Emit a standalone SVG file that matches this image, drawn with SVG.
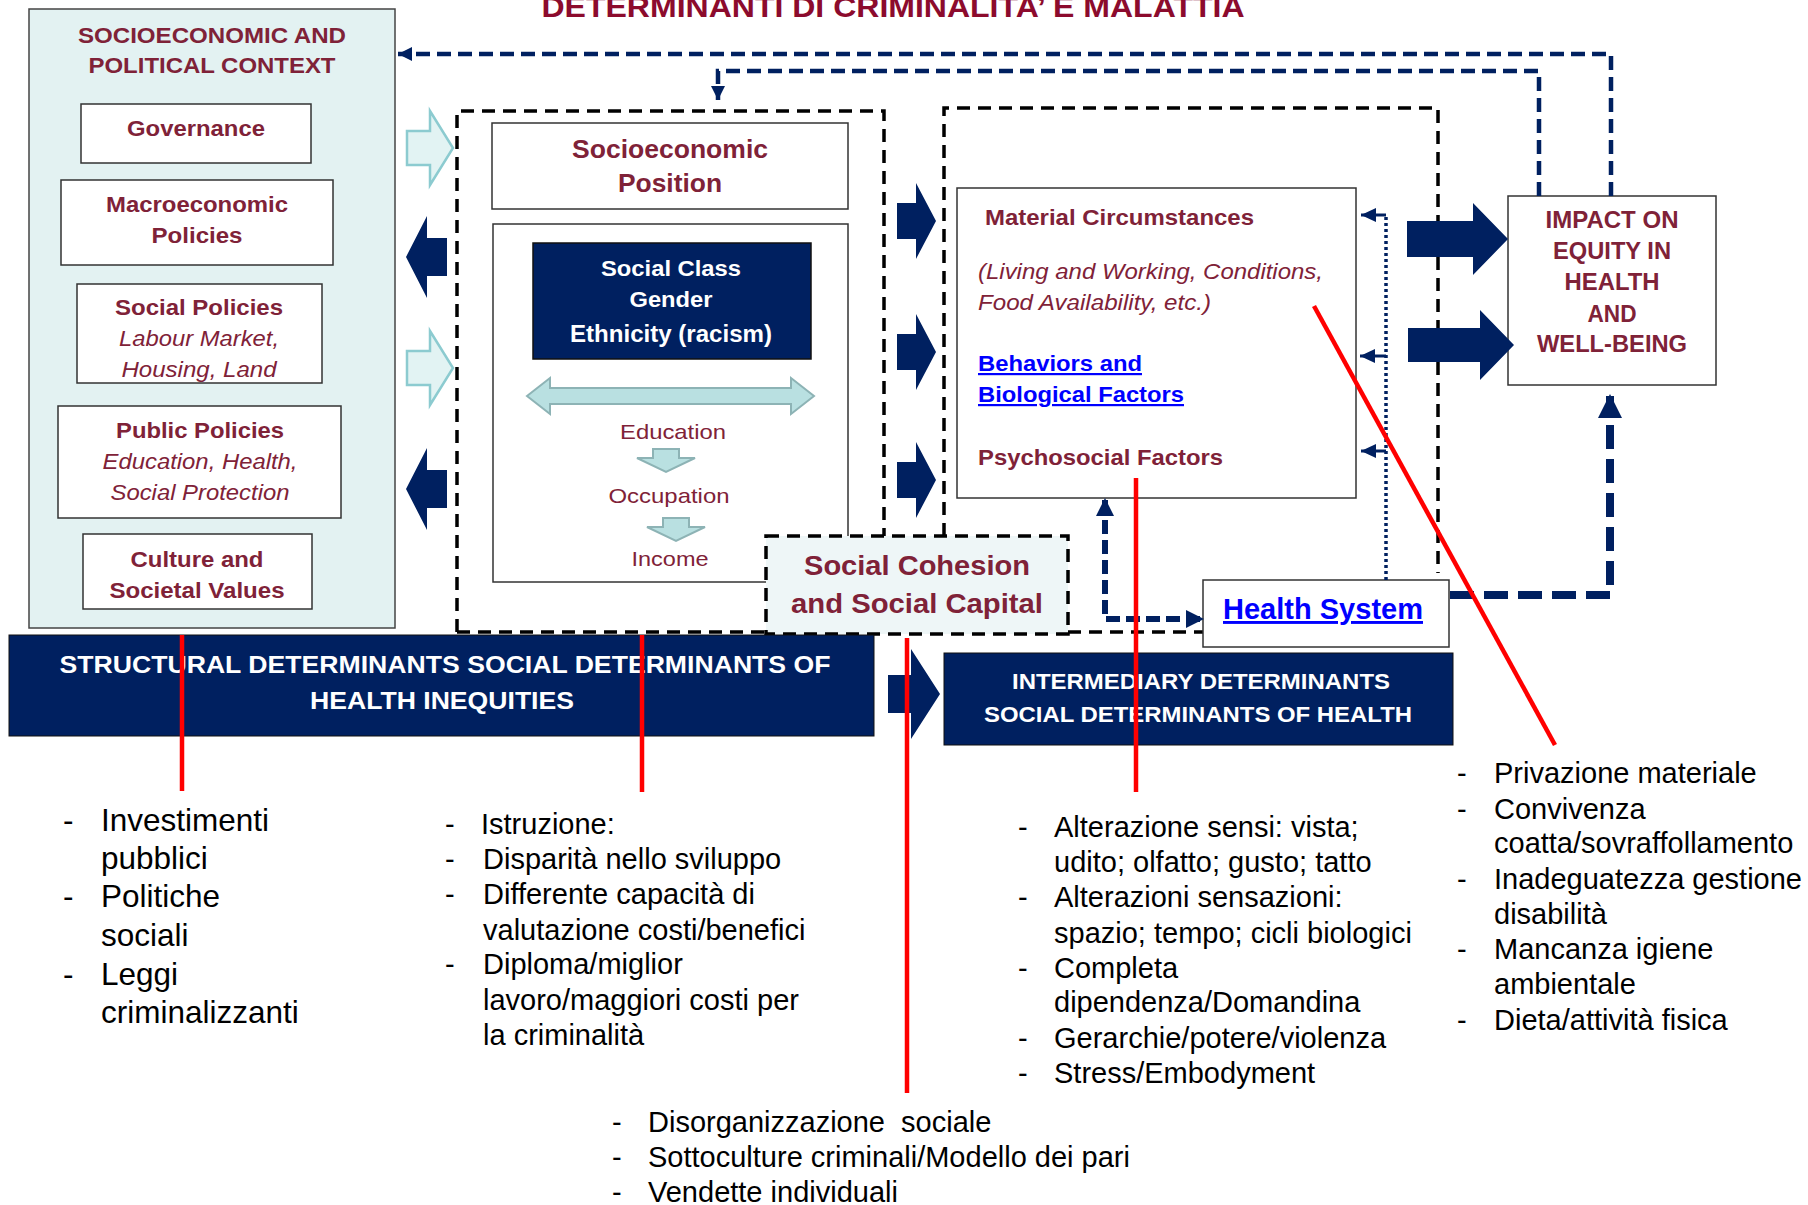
<svg xmlns="http://www.w3.org/2000/svg" width="1808" height="1205" viewBox="0 0 1808 1205">
<defs>
<style>
text{font-family:"Liberation Sans",Arial,sans-serif}
.b{font-weight:bold}
.i{font-style:italic}
.mr{fill:#7F2238}
.w{fill:#ffffff}
.bl{fill:#0000FF;text-decoration:underline}
.k{fill:#000000}
.box{fill:#ffffff;stroke:#333333;stroke-width:1.5}
.ctx{fill:#E3F2F2;stroke:#444444;stroke-width:1.5}
.navy{fill:#002060}
.dash{fill:none;stroke:#000000;stroke-width:3.5;stroke-dasharray:13 8}
.lt{fill:#E2F3F3;stroke:#8CCBD0;stroke-width:2.5}
.lt2{fill:#B9E0E1;stroke:#8DB3B5;stroke-width:2}
.fb{fill:none;stroke:#002060;stroke-width:4.5;stroke-dasharray:14 7}
.dot{fill:none;stroke:#002060;stroke-width:3.5;stroke-dasharray:3 3}
.sl{fill:none;stroke:#002060;stroke-width:3}
.red{stroke:#FF0000;stroke-width:4.5;fill:none}
.ls{font-size:29px}
</style>
<marker id="ah" markerUnits="userSpaceOnUse" markerWidth="14" markerHeight="14" refX="14" refY="7" orient="auto"><path d="M0,0 L14,7 L0,14 Z" fill="#002060"/></marker>
<marker id="ahs" markerUnits="userSpaceOnUse" markerWidth="15" markerHeight="14" refX="15" refY="7" orient="auto"><path d="M0,0 L15,7 L0,14 Z" fill="#002060"/></marker>
<marker id="ahm" markerUnits="userSpaceOnUse" markerWidth="18" markerHeight="18" refX="16" refY="9" orient="auto-start-reverse"><path d="M0,0 L18,9 L0,18 Z" fill="#002060"/></marker>
<marker id="ahl" markerUnits="userSpaceOnUse" markerWidth="24" markerHeight="24" refX="22" refY="12" orient="auto"><path d="M0,0 L24,12 L0,24 Z" fill="#002060"/></marker>
</defs>
<rect width="1808" height="1205" fill="#ffffff"/>

<g id="title">
<text x="893" y="17" class="b" font-size="30" fill="#8C0B2D" text-anchor="middle" textLength="703" lengthAdjust="spacingAndGlyphs">DETERMINANTI DI CRIMINALITA’ E MALATTIA</text>
</g>

<g id="context">
<rect x="29" y="9" width="366" height="619" class="ctx"/>
<text x="212" y="43" class="b mr" font-size="22" text-anchor="middle" textLength="268" lengthAdjust="spacingAndGlyphs">SOCIOECONOMIC AND</text>
<text x="212" y="73" class="b mr" font-size="22" text-anchor="middle" textLength="247" lengthAdjust="spacingAndGlyphs">POLITICAL CONTEXT</text>
</g>
<g id="governance">
<rect x="81" y="104" width="230" height="59" class="box"/>
<text x="196" y="136" class="b mr" font-size="22" text-anchor="middle" textLength="138" lengthAdjust="spacingAndGlyphs">Governance</text>
</g>
<g id="macro">
<rect x="61" y="180" width="272" height="85" class="box"/>
<text x="197" y="212" class="b mr" font-size="22" text-anchor="middle" textLength="182" lengthAdjust="spacingAndGlyphs">Macroeconomic</text>
<text x="197" y="243" class="b mr" font-size="22" text-anchor="middle" textLength="91" lengthAdjust="spacingAndGlyphs">Policies</text>
</g>
<g id="socialpol">
<rect x="77" y="284" width="245" height="99" class="box"/>
<text x="199" y="315" class="b mr" font-size="22" text-anchor="middle" textLength="168" lengthAdjust="spacingAndGlyphs">Social Policies</text>
<text x="199" y="346" class="i mr" font-size="22" text-anchor="middle" textLength="160" lengthAdjust="spacingAndGlyphs">Labour Market,</text>
<text x="199" y="377" class="i mr" font-size="22" text-anchor="middle" textLength="155" lengthAdjust="spacingAndGlyphs">Housing, Land</text>
</g>
<g id="publicpol">
<rect x="58" y="406" width="283" height="112" class="box"/>
<text x="200" y="438" class="b mr" font-size="22" text-anchor="middle" textLength="168" lengthAdjust="spacingAndGlyphs">Public Policies</text>
<text x="200" y="469" class="i mr" font-size="22" text-anchor="middle" textLength="195" lengthAdjust="spacingAndGlyphs">Education, Health,</text>
<text x="200" y="500" class="i mr" font-size="22" text-anchor="middle" textLength="179" lengthAdjust="spacingAndGlyphs">Social Protection</text>
</g>
<g id="culture">
<rect x="83" y="534" width="229" height="75" class="box"/>
<text x="197" y="567" class="b mr" font-size="22" text-anchor="middle" textLength="133" lengthAdjust="spacingAndGlyphs">Culture and</text>
<text x="197" y="598" class="b mr" font-size="22" text-anchor="middle" textLength="175" lengthAdjust="spacingAndGlyphs">Societal Values</text>
</g>

<g id="structural-frame">
<path class="dash" d="M457,632 V111 H884 V536"/>
<path class="dash" d="M457,632 H766"/>
<path class="dash" d="M1068,632 H1203"/>
</g>
<g id="sep">
<rect x="492" y="123" width="356" height="86" class="box"/>
<text x="670" y="158" class="b mr" font-size="25" text-anchor="middle" textLength="196" lengthAdjust="spacingAndGlyphs">Socioeconomic</text>
<text x="670" y="192" class="b mr" font-size="25" text-anchor="middle" textLength="104" lengthAdjust="spacingAndGlyphs">Position</text>
</g>
<g id="sep-inner">
<rect x="493" y="224" width="355" height="358" class="box"/>
</g>
<g id="socialclass">
<rect x="533" y="243" width="278" height="116" fill="#002060" stroke="#111111" stroke-width="1.5"/>
<text x="671" y="276" class="b w" font-size="22" text-anchor="middle" textLength="140" lengthAdjust="spacingAndGlyphs">Social Class</text>
<text x="671" y="307" class="b w" font-size="22" text-anchor="middle" textLength="83" lengthAdjust="spacingAndGlyphs">Gender</text>
<text x="671" y="342" class="b w" font-size="23" text-anchor="middle" textLength="202" lengthAdjust="spacingAndGlyphs">Ethnicity (racism)</text>
</g>
<g id="education">
<text x="673" y="439" class="mr" font-size="21" text-anchor="middle" textLength="106" lengthAdjust="spacingAndGlyphs">Education</text>
</g>
<g id="occupation">
<text x="669" y="503" class="mr" font-size="21" text-anchor="middle" textLength="121" lengthAdjust="spacingAndGlyphs">Occupation</text>
</g>
<g id="income">
<text x="670" y="566" class="mr" font-size="21" text-anchor="middle" textLength="77" lengthAdjust="spacingAndGlyphs">Income</text>
</g>

<g id="intermediary-frame">
<path class="dash" d="M944,536 V108 H1438 V573"/>
</g>
<g id="material">
<rect x="957" y="188" width="399" height="310" class="box"/>
<text x="985" y="225" class="b mr" font-size="22" textLength="269" lengthAdjust="spacingAndGlyphs">Material Circumstances</text>
<text x="978" y="279" class="i mr" font-size="22" textLength="345" lengthAdjust="spacingAndGlyphs">(Living and Working, Conditions,</text>
<text x="978" y="310" class="i mr" font-size="22" textLength="233" lengthAdjust="spacingAndGlyphs">Food Availability, etc.)</text>
<text x="978" y="371" class="b bl" font-size="22" textLength="164" lengthAdjust="spacingAndGlyphs">Behaviors and</text>
<text x="978" y="402" class="b bl" font-size="22" textLength="206" lengthAdjust="spacingAndGlyphs">Biological Factors</text>
<text x="978" y="465" class="b mr" font-size="22" textLength="245" lengthAdjust="spacingAndGlyphs">Psychosocial Factors</text>
</g>

<g id="cohesion">
<rect x="766" y="536" width="302" height="98" fill="#EEF6F7" stroke="#000000" stroke-width="3.5" stroke-dasharray="13 8"/>
<text x="917" y="575" class="b mr" font-size="28" text-anchor="middle" textLength="226" lengthAdjust="spacingAndGlyphs">Social Cohesion</text>
<text x="917" y="613" class="b mr" font-size="28" text-anchor="middle" textLength="252" lengthAdjust="spacingAndGlyphs">and Social Capital</text>
</g>

<g id="health">
<rect x="1203" y="580" width="246" height="67" class="box"/>
<text x="1223" y="619" class="b bl" font-size="29" textLength="200" lengthAdjust="spacingAndGlyphs">Health System</text>
</g>

<g id="impact">
<rect x="1508" y="196" width="208" height="189" class="box"/>
<text x="1612" y="228" class="b mr" font-size="23" text-anchor="middle" textLength="133" lengthAdjust="spacingAndGlyphs">IMPACT ON</text>
<text x="1612" y="259" class="b mr" font-size="23" text-anchor="middle" textLength="118" lengthAdjust="spacingAndGlyphs">EQUITY IN</text>
<text x="1612" y="290" class="b mr" font-size="23" text-anchor="middle" textLength="95" lengthAdjust="spacingAndGlyphs">HEALTH</text>
<text x="1612" y="322" class="b mr" font-size="23" text-anchor="middle" textLength="49" lengthAdjust="spacingAndGlyphs">AND</text>
<text x="1612" y="352" class="b mr" font-size="23" text-anchor="middle" textLength="150" lengthAdjust="spacingAndGlyphs">WELL-BEING</text>
</g>

<g id="structural-bar">
<rect x="9" y="635" width="865" height="101" fill="#002060" stroke="#111111" stroke-width="1"/>
<text x="445" y="673" class="b w" font-size="23" text-anchor="middle" textLength="771" lengthAdjust="spacingAndGlyphs">STRUCTURAL DETERMINANTS SOCIAL DETERMINANTS OF</text>
<text x="442" y="709" class="b w" font-size="23" text-anchor="middle" textLength="264" lengthAdjust="spacingAndGlyphs">HEALTH INEQUITIES</text>
</g>
<g id="intermediary-bar">
<rect x="944" y="653" width="509" height="92" fill="#002060" stroke="#111111" stroke-width="1"/>
<text x="1201" y="689" class="b w" font-size="22" text-anchor="middle" textLength="378" lengthAdjust="spacingAndGlyphs">INTERMEDIARY DETERMINANTS</text>
<text x="1198" y="722" class="b w" font-size="22" text-anchor="middle" textLength="428" lengthAdjust="spacingAndGlyphs">SOCIAL DETERMINANTS OF HEALTH</text>
</g>

<g id="connectors">
<path class="lt" d="M407,131 H430 V111 L453,148 L430,185 V165 H407 Z"/>
<path class="lt" d="M407,351 H430 V331 L453,368 L430,405 V385 H407 Z"/>
<path class="navy" d="M406,257 L427,216 V238 H447 V276 H427 V298 Z"/>
<path class="navy" d="M406,489 L427,448 V470 H447 V508 H427 V530 Z"/>
<path class="lt2" d="M527,396 L550,378 V388 H791 V378 L814,396 L791,414 V404 H550 V414 Z"/>
<path class="lt2" d="M653,449 H679 V458 H695 L666,472 L637,458 H653 Z"/>
<path class="lt2" d="M663,518 H689 V527 H705 L676,541 L647,527 H663 Z"/>
<path class="navy" d="M897,203 H916 V183 L936,221 L916,259 V239 H897 Z"/>
<path class="navy" d="M897,334 H916 V314 L936,352 L916,390 V370 H897 Z"/>
<path class="navy" d="M897,462 H916 V442 L936,480 L916,518 V498 H897 Z"/>
<path class="navy" d="M1407,221 H1473 V203 L1508,239 L1473,275 V257 H1407 Z"/>
<path class="navy" d="M1408,328 H1480 V310 L1514,345 L1480,380 V362 H1408 Z"/>
<path class="navy" d="M888,675 H911 V649 L940,694 L911,739 V713 H888 Z"/>
<path class="fb" d="M1611,196 V54 H398" marker-end="url(#ah)"/>
<path class="fb" d="M1539,196 V71 H718 V100" marker-end="url(#ah)"/>
<path class="dot" d="M1386,580 V215"/>
<path class="sl" d="M1386,215 H1361" marker-end="url(#ahs)"/>
<path class="sl" d="M1386,356 H1360" marker-end="url(#ahs)"/>
<path class="sl" d="M1386,451 H1361" marker-end="url(#ahs)"/>
<path fill="none" stroke="#002060" stroke-width="6" stroke-dasharray="14 6" d="M1105,500 V619 H1202" marker-start="url(#ahm)" marker-end="url(#ahm)"/>
<path fill="none" stroke="#002060" stroke-width="8" stroke-dasharray="24 10" d="M1450,595 H1610 V396" marker-end="url(#ahl)"/>
<path class="red" d="M182,635 V791"/>
<path class="red" d="M642,635 V792"/>
<path class="red" d="M907,638 V1093"/>
<path class="red" d="M1136,478 V792"/>
<path class="red" d="M1314,306 L1555,745"/>
</g>

<g id="list-structural" class="k" font-size="31.5">
<text x="63" y="831">-</text><text x="101" y="831">Investimenti</text>
<text x="101" y="869">pubblici</text>
<text x="63" y="907">-</text><text x="101" y="907">Politiche</text>
<text x="101" y="946">sociali</text>
<text x="63" y="985">-</text><text x="101" y="985">Leggi</text>
<text x="101" y="1023">criminalizzanti</text>
</g>
<g id="list-sep" class="k ls">
<text x="445" y="834">-</text><text x="481" y="834">Istruzione:</text>
<text x="445" y="869">-</text><text x="483" y="869">Disparità nello sviluppo</text>
<text x="445" y="904">-</text><text x="483" y="904">Differente capacità di</text>
<text x="483" y="940">valutazione costi/benefici</text>
<text x="445" y="974">-</text><text x="483" y="974">Diploma/miglior</text>
<text x="483" y="1010">lavoro/maggiori costi per</text>
<text x="483" y="1045">la criminalità</text>
</g>
<g id="list-psycho" class="k ls">
<text x="1018" y="837">-</text><text x="1054" y="837">Alterazione sensi: vista;</text>
<text x="1054" y="872">udito; olfatto; gusto; tatto</text>
<text x="1018" y="907">-</text><text x="1054" y="907">Alterazioni sensazioni:</text>
<text x="1054" y="943">spazio; tempo; cicli biologici</text>
<text x="1018" y="978">-</text><text x="1054" y="978">Completa</text>
<text x="1054" y="1012">dipendenza/Domandina</text>
<text x="1018" y="1048">-</text><text x="1054" y="1048">Gerarchie/potere/violenza</text>
<text x="1018" y="1083">-</text><text x="1054" y="1083">Stress/Embodyment</text>
</g>
<g id="list-material" class="k ls">
<text x="1457" y="783">-</text><text x="1494" y="783">Privazione materiale</text>
<text x="1457" y="819">-</text><text x="1494" y="819">Convivenza</text>
<text x="1494" y="853">coatta/sovraffollamento</text>
<text x="1457" y="889">-</text><text x="1494" y="889">Inadeguatezza gestione</text>
<text x="1494" y="924">disabilità</text>
<text x="1457" y="959">-</text><text x="1494" y="959">Mancanza igiene</text>
<text x="1494" y="994">ambientale</text>
<text x="1457" y="1030">-</text><text x="1494" y="1030">Dieta/attività fisica</text>
</g>
<g id="list-cohesion" class="k ls">
<text x="612" y="1132">-</text><text x="648" y="1132" xml:space="preserve">Disorganizzazione  sociale</text>
<text x="612" y="1167">-</text><text x="648" y="1167">Sottoculture criminali/Modello dei pari</text>
<text x="612" y="1202">-</text><text x="648" y="1202">Vendette individuali</text>
</g>
</svg>
